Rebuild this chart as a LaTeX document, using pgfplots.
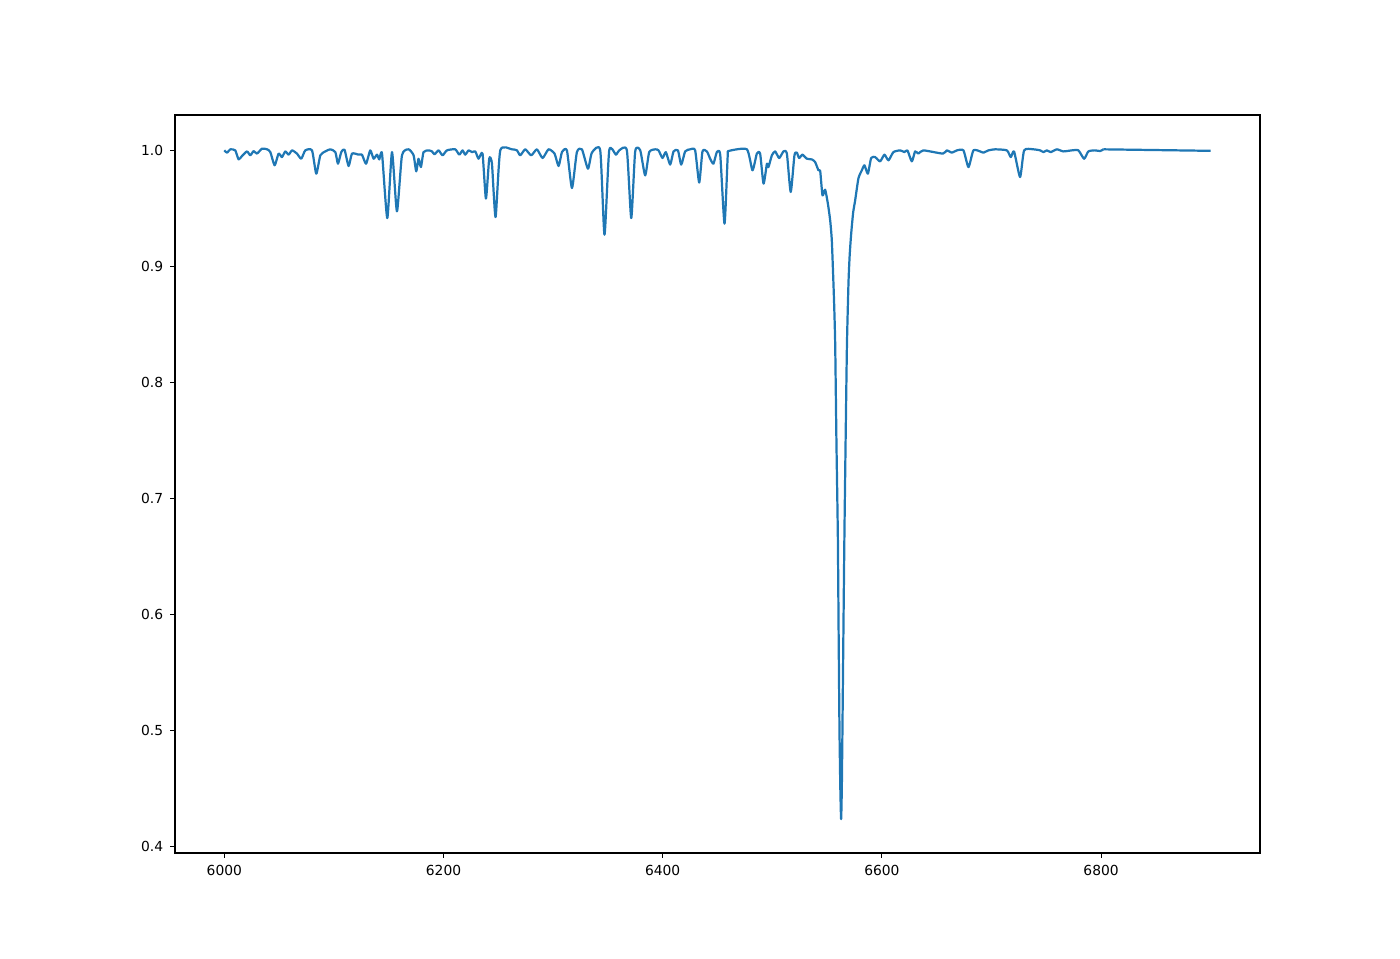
\documentclass[border=0pt]{standalone}
\usepackage{pgfplots}
\pgfplotsset{compat=1.18}
\usepackage{fontspec}
\setmainfont{DejaVu Sans}
\definecolor{mplblue}{HTML}{1F77B4}
\begin{document}
\begin{tikzpicture}
\begin{axis}[
  scale only axis,
  width=10.85in, height=7.38in,
  xmin=5955, xmax=6945,
  ymin=0.3941, ymax=1.0305,
  xtick={6000,6200,6400,6600,6800},
  ytick={0.4,0.5,0.6,0.7,0.8,0.9,1.0},
  yticklabel style={/pgf/number format/.cd,fixed,fixed zerofill,precision=1},
  xticklabel style={/pgf/number format/.cd,1000 sep={}},
  /pgf/number format/assume math mode=true,
  tick align=outside,
  major tick length=3.5pt,
  xtick pos=bottom, ytick pos=left,
  tick style={black, line width=0.8pt},
  axis line style={line width=0.8pt},
  ticklabel style={font=\fontsize{10pt}{12pt}\selectfont},
  xticklabel shift=1.5pt,
  yticklabel shift=1.5pt,
]
\addplot[mplblue, line width=1.6pt, line join=round, smooth, tension=0.35] coordinates {
(6000.0,1.0000) (6002.5,0.9980) (6005.5,1.0009) (6010.0,1.0000) (6013.0,0.9922)
(6016.1,0.9951) (6020.7,0.9991) (6023.7,0.9957) (6026.7,0.9994) (6029.8,0.9972)
(6034.4,1.0015) (6039.0,1.0009) (6042.0,0.9985) (6045.9,0.9871) (6049.5,0.9972)
(6052.6,0.9942) (6055.6,0.9991) (6058.7,0.9963) (6061.8,1.0000) (6066.3,0.9972)
(6070.2,0.9928) (6073.9,1.0000) (6080.0,1.0000) (6083.9,0.9799) (6087.6,0.9957)
(6092.1,0.9991) (6096.7,1.0009) (6101.3,0.9985) (6103.7,0.9885) (6106.7,0.9985)
(6109.7,1.0006) (6113.4,0.9865) (6116.5,0.9972) (6122.5,0.9963) (6125.6,0.9963)
(6129.3,0.9885) (6133.2,1.0000) (6136.2,0.9928) (6139.3,0.9963) (6141.4,0.9922)
(6143.9,0.9972) (6148.7,0.9416) (6153.0,0.9985) (6157.5,0.9474) (6162.1,0.9957)
(6168.1,1.0009) (6172.7,0.9957) (6175.1,0.9819) (6177.2,0.9928) (6179.4,0.9856)
(6181.8,0.9985) (6186.4,1.0000) (6189.5,0.9991) (6191.8,0.9966) (6195.5,1.0000)
(6199.1,0.9957) (6203.1,1.0000) (6210.7,1.0009) (6214.4,0.9963) (6217.4,1.0000)
(6219.8,0.9963) (6222.9,1.0000) (6226.0,0.9985) (6229.0,0.9991) (6232.0,0.9928)
(6235.6,0.9972) (6238.7,0.9584) (6241.7,0.9928) (6244.2,0.9885) (6247.5,0.9425)
(6251.8,1.0000) (6262.4,1.0009) (6267.0,1.0000) (6270.0,0.9957) (6274.6,1.0009)
(6280.0,0.9957) (6285.2,1.0009) (6290.4,0.9934) (6295.8,1.0009) (6301.3,0.9972)
(6305.0,0.9865) (6308.1,0.9985) (6312.6,1.0000) (6317.2,0.9675) (6321.7,0.9985)
(6326.3,1.0009) (6331.8,0.9842) (6335.4,0.9980) (6343.0,1.0000) (6346.9,0.9273)
(6351.2,1.0000) (6357.3,0.9963) (6360.3,1.0000) (6367.3,1.0000) (6371.3,0.9416)
(6374.9,0.9991) (6379.5,1.0000) (6384.0,0.9784) (6387.7,0.9985) (6393.2,1.0009)
(6396.2,1.0000) (6399.8,0.9934) (6402.9,0.9985) (6406.8,0.9877) (6409.9,0.9991)
(6413.9,1.0000) (6416.9,0.9877) (6420.5,0.9991) (6425.1,1.0009) (6429.6,1.0000)
(6433.3,0.9722) (6436.3,0.9991) (6440.3,0.9991) (6443.3,0.9928) (6446.3,0.9885)
(6449.4,0.9985) (6452.5,0.9960) (6456.4,0.9368) (6459.3,0.9950) (6460.5,0.9995)
(6476.8,1.0009) (6481.9,0.9828)
(6485.9,0.9972) (6488.9,0.9972) (6492.0,0.9713) (6495.1,0.9885) (6496.5,0.9856)
(6499.6,0.9957) (6502.6,0.9991) (6506.3,0.9934) (6510.2,0.9991) (6513.3,0.9972)
(6516.8,0.9641) (6520.2,0.9957) (6522.4,0.9980) (6524.5,0.9934) (6527.5,0.9963)
(6531.5,0.9928) (6536.1,0.9922) (6539.1,0.9899) (6542.1,0.9828) (6543.7,0.9822)
(6545.8,0.9612) (6548.2,0.9661) (6550.7,0.9541) (6552.8,0.9397) (6554.3,0.9224)
(6555.8,0.8851) (6556.6,0.8621) (6557.4,0.8319) (6558.5,0.7500) (6559.8,0.6681)
(6560.5,0.5862) (6561.3,0.5000) (6562.1,0.4483) (6562.8,0.4233) (6563.4,0.4483)
(6564.0,0.5000) (6564.9,0.5862) (6565.8,0.6681) (6566.9,0.7500) (6568.1,0.8319)
(6569.5,0.8853) (6570.6,0.9095) (6572.0,0.9284) (6573.8,0.9466) (6575.6,0.9569)
(6578.6,0.9759) (6581.7,0.9828) (6584.1,0.9871) (6587.2,0.9799) (6590.2,0.9934)
(6593.8,0.9942) (6598.4,0.9905) (6602.3,0.9963) (6606.0,0.9914) (6610.5,0.9985)
(6616.7,1.0000) (6620.6,0.9985) (6623.3,1.0000) (6627.3,0.9905) (6630.3,0.9991)
(6633.3,0.9972) (6637.9,1.0000) (6655.6,0.9972) (6659.2,1.0000) (6663.8,0.9980)
(6668.4,1.0000) (6674.4,1.0000) (6679.0,0.9856) (6683.5,1.0000) (6689.6,0.9991)
(6692.6,0.9980) (6697.2,1.0000) (6703.3,1.0009) (6714.0,1.0000) (6717.6,0.9942)
(6720.6,0.9991) (6726.1,0.9770) (6729.8,1.0000) (6738.2,1.0009) (6744.4,1.0000)
(6747.4,0.9985) (6750.5,1.0000) (6754.1,0.9985) (6759.6,1.0009) (6765.6,0.9991)
(6773.3,1.0000) (6779.3,1.0000) (6784.5,0.9928) (6788.4,0.9991) (6794.5,1.0000)
(6799.1,0.9994) (6802.1,1.0009)
};
\addplot[mplblue, line width=1.6pt, line join=round] coordinates {
(6802.1,1.0009) (6900.0,0.9996)
};
\end{axis}
\path (current axis.south west) ++(-1.75in,-1.05in) coordinate (bbsw);
\path (current axis.north east) ++(1.40in,1.15in) coordinate (bbne);
\path[use as bounding box] (bbsw) rectangle (bbne);
\end{tikzpicture}
\end{document}
